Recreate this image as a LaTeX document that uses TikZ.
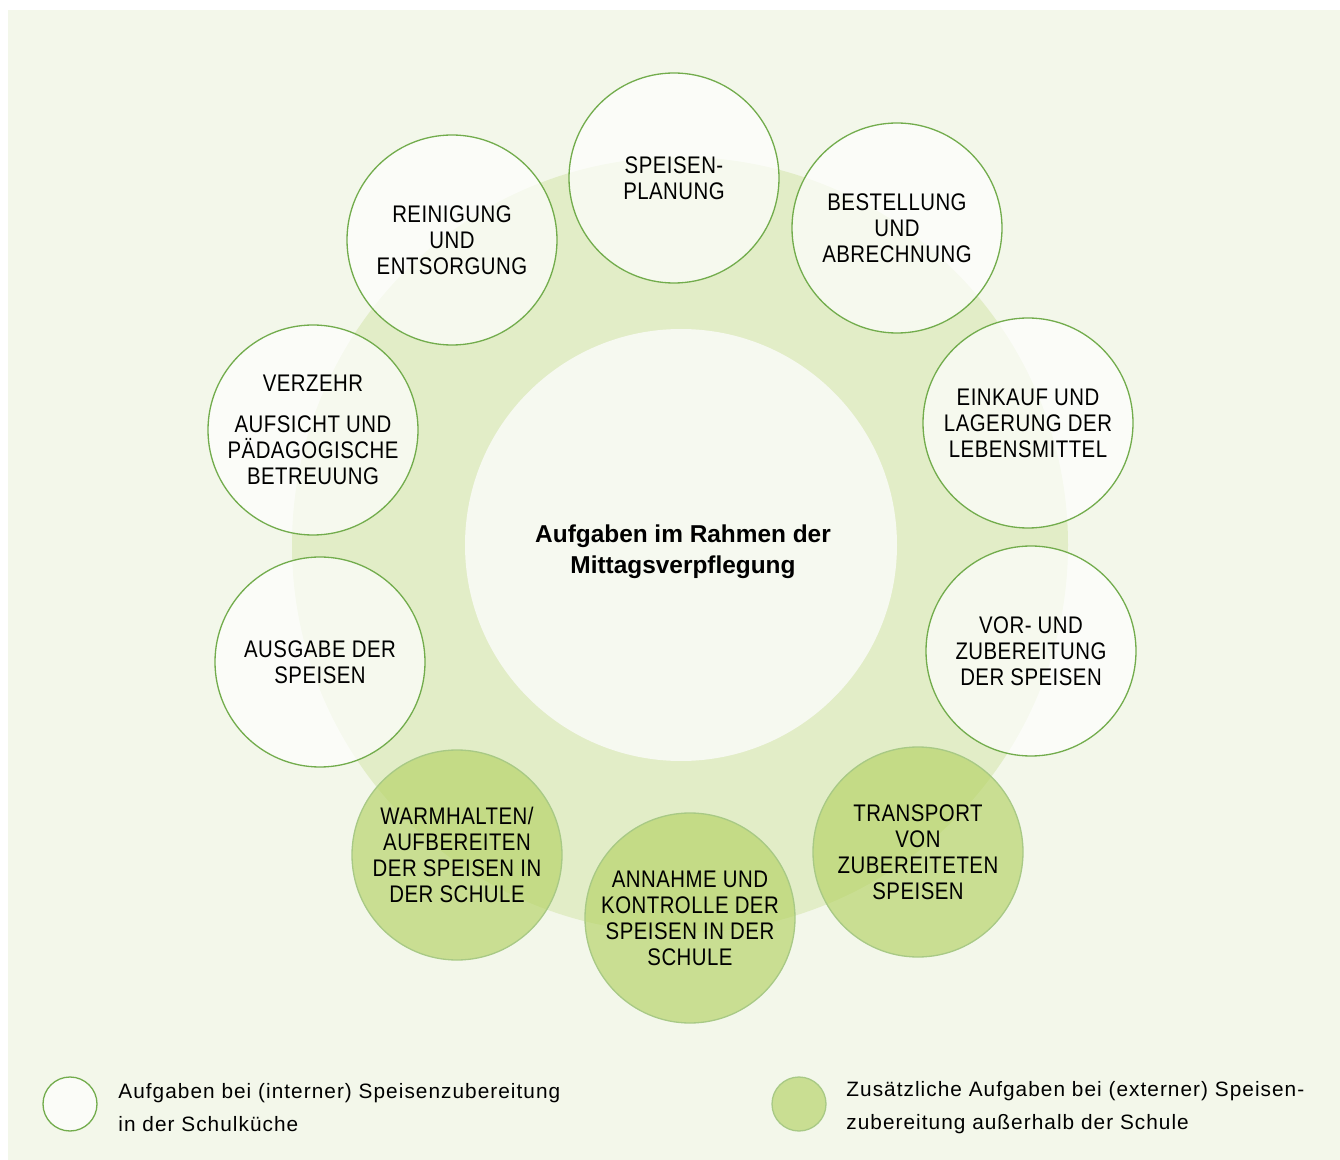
\documentclass[tikz,border=0pt]{standalone}
\usepackage{fontspec}
\setmainfont{Liberation Sans}
\newfontfamily\capsfont[FakeStretch=0.85,LetterSpace=2]{Liberation Sans}
\newfontfamily\legendfont[LetterSpace=5]{Liberation Sans}
\usepackage{tikz}
\usetikzlibrary{shapes,positioning}
\definecolor{panel}{RGB}{243,247,234}
\definecolor{ring}{RGB}{226,237,199}
\definecolor{inner}{RGB}{246,249,240}
\definecolor{rim}{RGB}{114,172,76}
\definecolor{leaf}{RGB}{180,210,100}
\definecolor{leafrim}{RGB}{168,201,133}

\begin{document}
\begin{tikzpicture}[x=0.5pt, y=-0.5pt,
    task/.style={circle, draw=rim, line width=0.65pt, fill=white,
        fill opacity=0.7, text opacity=1, minimum size=105pt, inner sep=0pt,
        align=center, font=\capsfont\fontsize{12}{13}\selectfont},
    extra/.style={task, draw=leafrim, fill=leaf, fill opacity=0.65},
    legend/.style={anchor=west, align=left, inner sep=0pt,
        font=\legendfont\fontsize{10.4}{16.5}\selectfont}]
\useasboundingbox (0,0) rectangle (1340,1160);
\fill[panel] (8,10) rectangle (1340,1160);
\fill[ring] (680,545) circle[radius=388];

\node[circle, fill=inner, minimum size=216pt, inner sep=0pt] (centre) at (681,545) {};
\node[align=center, font=\bfseries\fontsize{12.2}{15.5}\selectfont] (title)
    at (683,552) {Aufgaben im Rahmen der\\Mittagsverpflegung};

\node[task] (planung) at (674,178) {SPEISEN-\\PLANUNG};
\node[task] (bestellung) at (897,228) {BESTELLUNG\\UND\\ABRECHNUNG};
\node[task] (einkauf) at (1028,423) {EINKAUF UND\\LAGERUNG DER\\LEBENSMITTEL};
\node[task] (zubereitung) at (1031,651) {VOR- UND\\ZUBEREITUNG\\DER SPEISEN};
\node[extra] (transport) at (918,852) {TRANSPORT\\VON\\ZUBEREITETEN\\SPEISEN};
\node[extra] (annahme) at (690,918) {ANNAHME UND\\KONTROLLE DER\\SPEISEN IN DER\\SCHULE};
\node[extra] (warmhalten) at (457,855) {WARMHALTEN/\\AUFBEREITEN\\DER SPEISEN IN\\DER SCHULE};
\node[task] (ausgabe) at (320,662) {AUSGABE DER\\SPEISEN};
\node[task] (verzehr) at (313,430) {VERZEHR\\[7.5pt]AUFSICHT UND\\PÄDAGOGISCHE\\BETREUUNG};
\node[task] (reinigung) at (452,240) {REINIGUNG\\UND\\ENTSORGUNG};

\node[task, minimum size=27pt] (intern) at (70,1104) {};
\node[legend] (internText) at (118,1108)
    {Aufgaben bei (interner) Speisenzubereitung\\in der Schulküche};
\node[extra, minimum size=27pt] (extern) at (799,1104) {};
\node[legend] (externText) at (846,1108)
    {Zusätzliche Aufgaben bei (externer) Speisen-\\zubereitung außerhalb der Schule};
\end{tikzpicture}
\end{document}
